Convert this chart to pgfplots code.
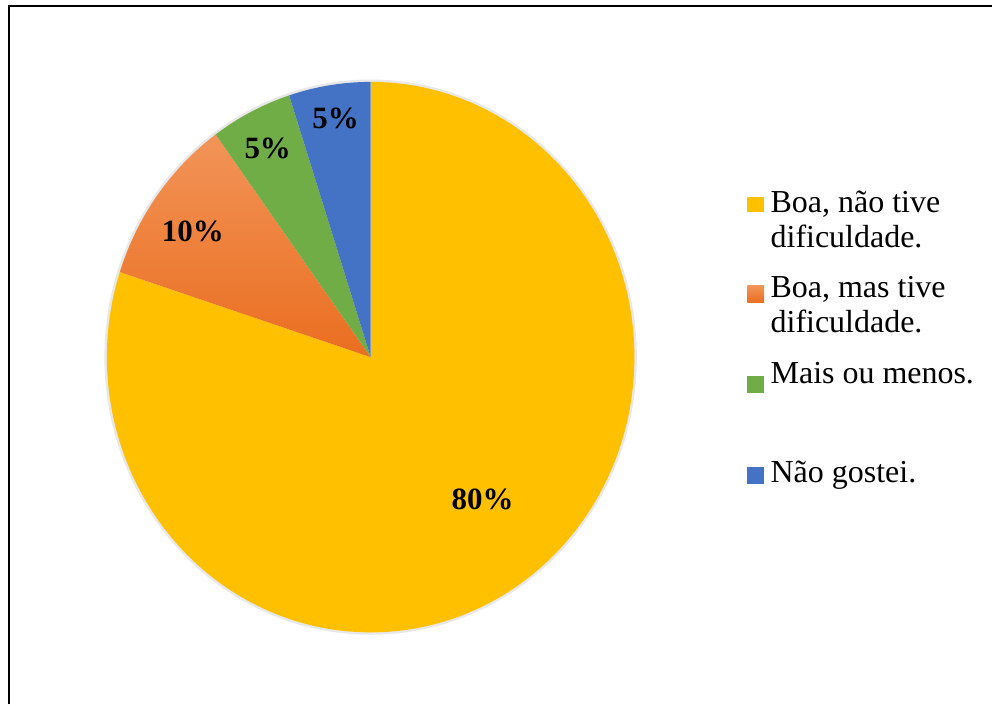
\documentclass[border=0pt]{standalone}
\usepackage{fontspec}
\setmainfont{Liberation Serif}
\usepackage{pgfplots}
\pgfplotsset{compat=1.18}
\definecolor{cYel}{HTML}{FFC000}
\definecolor{cOra}{HTML}{ED7D31}
\definecolor{cOraL}{HTML}{F29458}
\definecolor{cOraD}{HTML}{EA6E20}
\definecolor{cGre}{HTML}{70AD47}
\definecolor{cBlu}{HTML}{4472C4}
\begin{document}
\begin{tikzpicture}
\begin{axis}[hide axis, scale only axis, width=496.5pt, height=352.5pt,
  xmin=0, xmax=993, ymin=0, ymax=705, clip=false]
% bounding box
\path (axis cs:0,0) rectangle (axis cs:993,705);
% frame
\draw[line width=1pt, black] (axis cs:9,0) -- (axis cs:9,698.5) -- (axis cs:993,698.5);
% shadow
\draw[black!9, line width=1.5pt] (axis cs:371,347.5) ellipse [x radius=132.5pt, y radius=138.2pt];
% pie: 80, 10, 5, 5 (percent), clockwise from top
\fill[cYel] (axis cs:371,347.5) -- +(90:132pt and 137.75pt)
  arc[start angle=90, end angle={90-3.6*80}, x radius=132pt, y radius=137.75pt] -- cycle;
\shade[top color=cOraL, bottom color=cOraD] (axis cs:371,347.5) -- +({90-3.6*80}:132pt and 137.75pt)
  arc[start angle={90-3.6*80}, end angle={90-3.6*90}, x radius=132pt, y radius=137.75pt] -- cycle;
\fill[cGre] (axis cs:371,347.5) -- +({90-3.6*90}:132pt and 137.75pt)
  arc[start angle={90-3.6*90}, end angle={90-3.6*95}, x radius=132pt, y radius=137.75pt] -- cycle;
\fill[cBlu] (axis cs:371,347.5) -- +({90-3.6*95}:132pt and 137.75pt)
  arc[start angle={90-3.6*95}, end angle={90-3.6*100}, x radius=132pt, y radius=137.75pt] -- cycle;
% data labels
\begin{scope}[every node/.style={font=\bfseries\fontsize{15.5}{18}\selectfont}]
\node at (axis cs:483,205) {80\%};
\node at (axis cs:193,473) {10\%};
\node at (axis cs:268,556) {5\%};
\node at (axis cs:336,586) {5\%};
\end{scope}
% legend
\fill[cYel] (axis cs:748,493) rectangle (axis cs:765,508);
\shade[top color=cOraL, bottom color=cOraD] (axis cs:748,402) rectangle (axis cs:765,419);
\fill[cGre] (axis cs:748,312) rectangle (axis cs:765,329);
\fill[cBlu] (axis cs:748,221) rectangle (axis cs:765,238);
\begin{scope}[every node/.style={anchor=base west, inner sep=0pt, font=\fontsize{16}{18}\selectfont}]
\node at (axis cs:771,492) {Boa, não tive};
\node at (axis cs:771,457) {dificuldade.};
\node at (axis cs:771,407) {Boa, mas tive};
\node at (axis cs:771,372) {dificuldade.};
\node at (axis cs:771,321) {Mais ou menos.};
\node at (axis cs:771,222) {Não gostei.};
\end{scope}
\end{axis}
\end{tikzpicture}
\end{document}
